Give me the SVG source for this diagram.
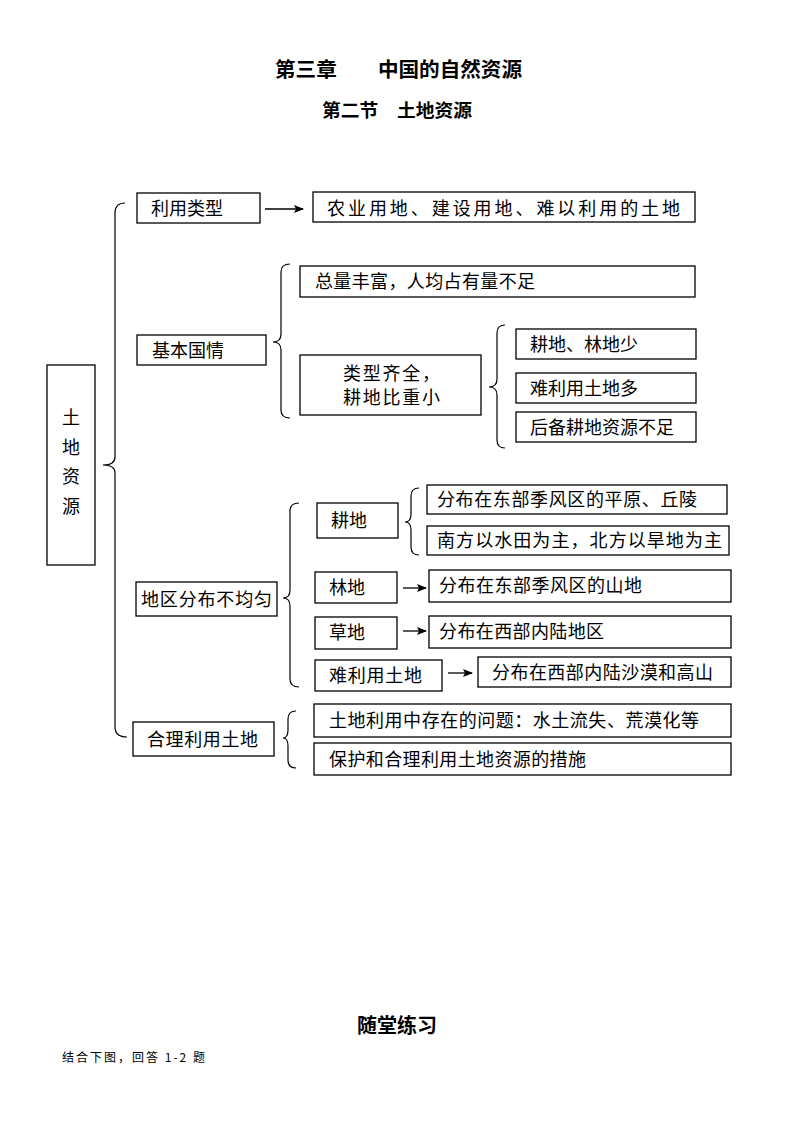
<svg xmlns="http://www.w3.org/2000/svg" width="794" height="1123" viewBox="0 0 794 1123">
<defs>
<marker id="ah" markerWidth="10" markerHeight="8" refX="9" refY="4" orient="auto" markerUnits="userSpaceOnUse">
<path d="M0,0 L10,4 L0,8 L2,4 Z" fill="#000"/>
</marker>
<style>
.box{fill:#fff;stroke:#000;stroke-width:1.3}
.t{font-family:"Noto Sans CJK SC","Noto Sans CJK JP",sans-serif;font-size:18px;fill:#000}
.c{text-anchor:middle}
.h{font-family:"Noto Sans CJK SC",sans-serif;font-weight:bold;fill:#000}
.br{fill:none;stroke:#000;stroke-width:1.2}
.ar{stroke:#000;stroke-width:1.3;marker-end:url(#ah)}
</style>
</defs>
<rect width="794" height="1123" fill="#fff"/>
<text class="h" x="275" y="77" font-size="20" textLength="247" lengthAdjust="spacingAndGlyphs">第三章　　中国的自然资源</text>
<text class="h" x="322" y="117" font-size="18" textLength="150" lengthAdjust="spacingAndGlyphs">第二节　土地资源</text>

<g id="connectors">
<path class="br" d="M125,203 Q115,203 115,213 L115,457 Q115,465 103,465 Q115,465 115,473 L115,727 Q115,737 127,737"/>
<path class="br" d="M290,264 Q281,264 281,272 L281,334 Q281,342 273,342 Q281,342 281,350 L281,410 Q281,418 290,418"/>
<path class="br" d="M505,325 Q497,325 497,333 L497,379 Q497,387 489,387 Q497,387 497,395 L497,440 Q497,448 505,448"/>
<path class="br" d="M299,503 Q290,503 290,511 L290,590 Q290,598 283,598 Q290,598 290,606 L290,679 Q290,687 299,687"/>
<path class="br" d="M419,488 Q411,488 411,496 L411,514 Q411,522 405,522 Q411,522 411,530 L411,547 Q411,555 419,555"/>
<path class="br" d="M296,711 Q288,711 288,719 L288,730 Q288,738 283,738 Q288,738 288,746 L288,760 Q288,768 296,768"/>
<line class="ar" x1="265" y1="209" x2="303" y2="209"/>
<line class="ar" x1="403" y1="588" x2="426" y2="588"/>
<line class="ar" x1="403" y1="631" x2="426" y2="631"/>
<line class="ar" x1="448" y1="673" x2="472" y2="673"/>
</g>

<g id="n-root"><rect class="box" x="47" y="365" width="48" height="200"/>
<text class="t c" x="71" y="424">土</text><text class="t c" x="71" y="454">地</text><text class="t c" x="71" y="483">资</text><text class="t c" x="71" y="513">源</text></g>

<g id="n-lylx"><rect class="box" x="137" y="193" width="123" height="30"/><text class="t" x="151" y="215">利用类型</text></g>
<g id="n-lylx-r"><rect class="box" x="313" y="192" width="382" height="30"/><text class="t" x="327" y="215" textLength="353" lengthAdjust="spacing">农业用地、建设用地、难以利用的土地</text></g>

<g id="n-jbgq"><rect class="box" x="137" y="335" width="129" height="30"/><text class="t" x="152" y="357">基本国情</text></g>
<g id="n-zl"><rect class="box" x="300" y="266" width="395" height="31"/><text class="t" x="315" y="288" textLength="220" lengthAdjust="spacing">总量丰富，人均占有量不足</text></g>
<g id="n-lx"><rect class="box" x="300" y="355" width="181" height="60"/><text class="t" x="343" y="380" font-size="17" textLength="97" lengthAdjust="spacing">类型齐全，</text><text class="t" x="343" y="404" font-size="17" textLength="97" lengthAdjust="spacing">耕地比重小</text></g>
<g id="n-gd-ld"><rect class="box" x="516" y="329" width="180" height="30"/><text class="t" x="530" y="351">耕地、林地少</text></g>
<g id="n-nly"><rect class="box" x="516" y="373" width="180" height="30"/><text class="t" x="530" y="395">难利用土地多</text></g>
<g id="n-hb"><rect class="box" x="516" y="412" width="180" height="30"/><text class="t" x="530" y="434">后备耕地资源不足</text></g>

<g id="n-dq"><rect class="box" x="136" y="582" width="141" height="34"/><text class="t" x="141" y="606" textLength="131" lengthAdjust="spacing">地区分布不均匀</text></g>
<g id="n-gd"><rect class="box" x="317" y="503" width="81" height="35"/><text class="t" x="331" y="527">耕地</text></g>
<g id="n-gd1"><rect class="box" x="427" y="485" width="300" height="29"/><text class="t" x="437" y="506" textLength="260" lengthAdjust="spacing">分布在东部季风区的平原、丘陵</text></g>
<g id="n-gd2"><rect class="box" x="427" y="526" width="302" height="29"/><text class="t" x="437" y="547" textLength="285" lengthAdjust="spacing">南方以水田为主，北方以旱地为主</text></g>
<g id="n-ld"><rect class="box" x="315" y="572" width="82" height="31"/><text class="t" x="329" y="594">林地</text></g>
<g id="n-ld1"><rect class="box" x="429" y="570" width="302" height="32"/><text class="t" x="439" y="592" textLength="203" lengthAdjust="spacing">分布在东部季风区的山地</text></g>
<g id="n-cd"><rect class="box" x="315" y="617" width="82" height="32"/><text class="t" x="329" y="639">草地</text></g>
<g id="n-cd1"><rect class="box" x="429" y="616" width="302" height="32"/><text class="t" x="439" y="638" textLength="165" lengthAdjust="spacing">分布在西部内陆地区</text></g>
<g id="n-nl"><rect class="box" x="315" y="660" width="127" height="31"/><text class="t" x="329" y="682" textLength="93" lengthAdjust="spacing">难利用土地</text></g>
<g id="n-nl1"><rect class="box" x="478" y="657" width="253" height="30"/><text class="t" x="492" y="679" textLength="221" lengthAdjust="spacing">分布在西部内陆沙漠和高山</text></g>

<g id="n-hl"><rect class="box" x="133" y="722" width="141" height="34"/><text class="t" x="147" y="746" textLength="111" lengthAdjust="spacing">合理利用土地</text></g>
<g id="n-hl1"><rect class="box" x="314" y="704" width="417" height="33"/><text class="t" x="329" y="727" textLength="370" lengthAdjust="spacing">土地利用中存在的问题：水土流失、荒漠化等</text></g>
<g id="n-hl2"><rect class="box" x="314" y="743" width="417" height="32"/><text class="t" x="329" y="766" textLength="257" lengthAdjust="spacing">保护和合理利用土地资源的措施</text></g>

<text class="h" x="397" y="1033" font-size="20" text-anchor="middle">随堂练习</text>
<text x="62" y="1062" font-family="Noto Sans CJK SC, sans-serif" font-size="12" fill="#000" textLength="143" lengthAdjust="spacing">结合下图，回答 1-2 题</text>
</svg>
